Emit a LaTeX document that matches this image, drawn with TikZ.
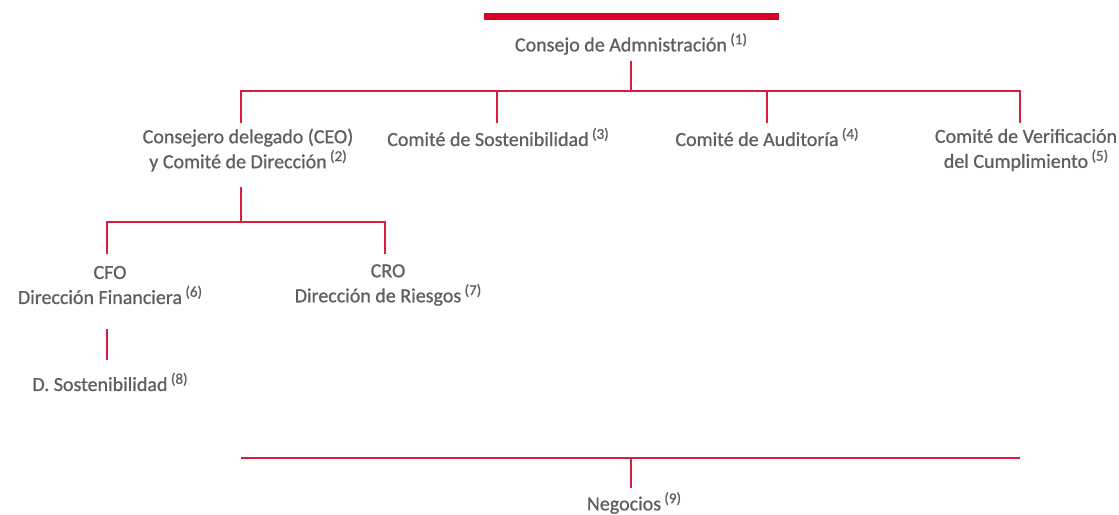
\documentclass[tikz,border=0pt]{standalone}
\usepackage{fontspec}
\setmainfont{Carlito}[FakeBold=0.9]
\definecolor{sred}{RGB}{220,0,40}
\definecolor{sline}{RGB}{214,30,64}
\definecolor{sgray}{RGB}{95,95,95}
\newcommand{\nsup}[1]{\,\raisebox{0.75ex}{\fontsize{15}{15}\selectfont(#1)}}
\begin{document}
\begin{tikzpicture}[x=1pt,y=-1pt,
  lbl/.style={text=sgray,font=\fontsize{20}{25}\selectfont,align=center,inner sep=0pt},
  conn/.style={draw=sline,line width=1.3pt}]
\useasboundingbox (0,0) rectangle (1119,514);
\fill[sred] (484,13) rectangle (779,20);
\node[lbl] (board) at (631,44) {Consejo de Admnistración\nsup{1}};
\coordinate (boardb) at (631,61);
\coordinate (bus1) at (631,91);
\node[lbl] (ceo) at (248,150) {Consejero delegado (CEO)\\y Comité de Dirección\nsup{2}};
\node[lbl] (sost) at (498,137) {Comité de Sostenibilidad\nsup{3}};
\node[lbl] (aud) at (767,137) {Comité de Auditoría\nsup{4}};
\node[lbl] (verif) at (1026,150) {Comité de Verificación\\del Cumplimiento\nsup{5}};
\coordinate (t1) at (241,123);
\coordinate (t2) at (497,123);
\coordinate (t3) at (767,123);
\coordinate (t4) at (1020,123);
\draw[conn] (boardb) -- (bus1);
\draw[conn] (t1) -- (241,91) -- (1020,91) -- (t4);
\draw[conn] (t2) -- (497,91);
\draw[conn] (t3) -- (767,91);
% CEO subtree
\coordinate (ceob) at (241,187);
\coordinate (c1) at (107,254);
\coordinate (c2) at (385,254);
\draw[conn] (ceob) -- (241,222);
\draw[conn] (c1) -- (107,222) -- (385,222) -- (c2);
\node[lbl] (cfo) at (110,285) {CFO\\Dirección Financiera\nsup{6}};
\node[lbl] (cro) at (388,285) {CRO\\Dirección de Riesgos\nsup{7}};
\coordinate (cfob) at (107,329);
\coordinate (dst) at (107,360);
\draw[conn] (cfob) -- (dst);
\node[lbl] (dsost) at (110,382) {D. Sostenibilidad\nsup{8}};
% Negocios
\coordinate (nb) at (631,488);
\draw[conn] (241,458) -- (1020,458);
\draw[conn] (631,458) -- (nb);
\node[lbl] (neg) at (634,503) {Negocios\nsup{9}};
\end{tikzpicture}
\end{document}
